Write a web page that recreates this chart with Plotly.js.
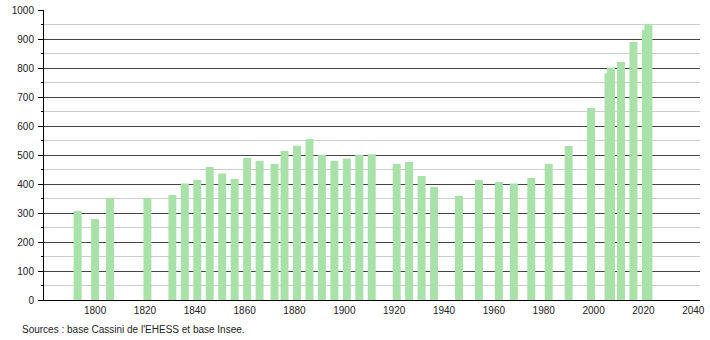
<!DOCTYPE html>
<html>
<head>
<meta charset="utf-8">
<script src="https://cdn.plot.ly/plotly-3.0.1.min.js"></script>
<style>
html,body{margin:0;padding:0;background:#fff;}
#chart{width:710px;height:340px;}
</style>
</head>
<body>
<div id="chart"></div>
<script>
const years = [1793,1800,1806,1821,1831,1836,1841,1846,1851,1856,1861,1866,1872,1876,1881,1886,1891,1896,1901,1906,1911,1921,1926,1931,1936,1946,1954,1962,1968,1975,1982,1990,1999,2006,2007,2011,2016,2021,2022];
const population = [307,279,352,352,362,402,414,459,436,417,490,479,469,514,532,555,500,479,488,500,503,469,476,428,390,359,414,407,402,421,469,531,662,782,802,821,890,931,952];
const xTicks = [1800,1820,1840,1860,1880,1900,1920,1940,1960,1980,2000,2020,2040];
const yTicks = [0,100,200,300,400,500,600,700,800,900,1000];
const sourceText = "Sources : base Cassini de l'EHESS et base Insee.";

const trace = {
  type: 'bar',
  x: years,
  y: population,
  width: years.map(() => 3.2),
  marker: {color: 'rgb(168,226,168)', line: {width: 0}},
  hoverinfo: 'x+y'
};

const layout = {
  width: 710,
  height: 340,
  margin: {l: 44, r: 10, t: 10, b: 40},
  paper_bgcolor: '#fff',
  plot_bgcolor: '#fff',
  showlegend: false,
  font: {family: 'Liberation Sans, Arial, sans-serif', size: 10, color: '#222'},
  xaxis: {
    range: [1779.5, 2042.7],
    tickvals: xTicks,
    ticktext: xTicks.map(String),
    showgrid: false,
    zeroline: false,
    showline: true,
    linecolor: '#000',
    linewidth: 1,
    ticks: '',
    ticklabelstandoff: 1,
    tickfont: {size: 10, color: '#222'}
  },
  yaxis: {
    range: [0, 1000],
    tickvals: yTicks,
    ticktext: yTicks.map(String),
    showgrid: true,
    gridcolor: '#444',
    gridwidth: 1,
    zeroline: false,
    showline: true,
    linecolor: '#000',
    linewidth: 1,
    ticks: 'outside',
    ticklen: 5,
    tickcolor: '#000',
    ticklabelstandoff: 2,
    tickfont: {size: 10, color: '#222'},
    minor: {dtick: 50, tick0: 0, showgrid: true, gridcolor: '#cccccc', gridwidth: 1, ticks: 'outside', ticklen: 2, tickcolor: '#000'}
  },
  annotations: [{
    text: sourceText,
    xref: 'paper', yref: 'paper',
    x: -44/656 + 20/656, y: 0,
    xanchor: 'left', yanchor: 'middle',
    yshift: -29,
    showarrow: false,
    font: {size: 10, color: '#222', family: 'Liberation Sans, Arial, sans-serif'}
  }]
};

Plotly.newPlot('chart', [trace], layout, {displayModeBar: false, staticPlot: true});
</script>
</body>
</html>
